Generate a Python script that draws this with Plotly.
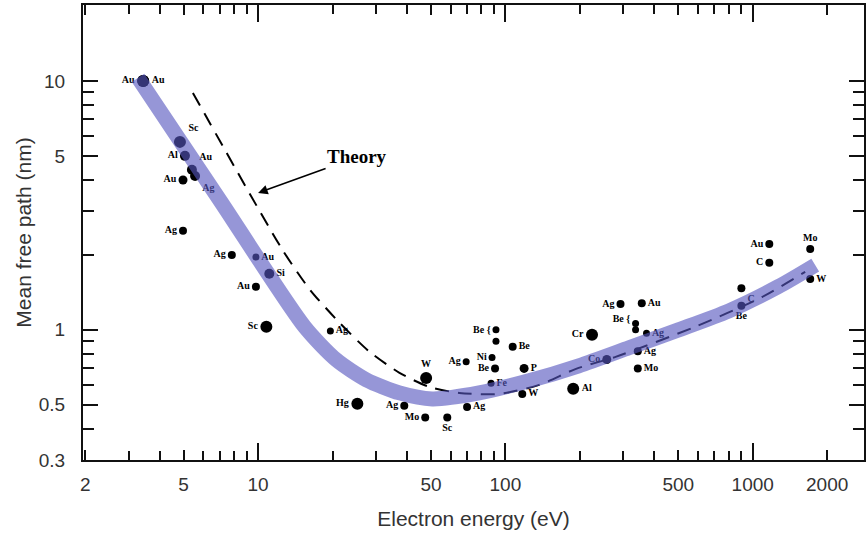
import plotly.graph_objects as go

# ---------------- data ----------------
# measured points (electron energy eV, mean free path nm, element)
energy = [3.43, 3.43, 4.83, 5.06, 5.40, 4.97, 5.56, 4.97, 7.83, 9.8, 11.1, 9.8, 10.8,
          19.6, 25.2, 39.0, 47.4, 47.8, 58.2, 70.0, 69.4, 88.3, 90.8, 91.6, 91.6,
          107, 119, 87.5, 117, 188, 224, 257, 292, 356, 336, 336, 372, 343, 343,
          1167, 1167, 1708, 1708, 900, 900]
mfp = [10.0, 10.0, 5.69, 5.0, 4.40, 4.0, 4.15, 2.50, 2.0, 1.96, 1.68, 1.49, 1.03,
       0.99, 0.505, 0.495, 0.444, 0.64, 0.444, 0.49, 0.744, 0.774, 0.70, 1.0, 0.90,
       0.855, 0.70, 0.61, 0.553, 0.58, 0.955, 0.76, 1.27, 1.28, 1.06, 1.0, 0.97, 0.82, 0.70,
       2.21, 1.86, 2.11, 1.60, 1.47, 1.25]
element = ["Au", "Au", "Sc", "Al", "Au", "Au", "Ag", "Ag", "Ag", "Au", "Si", "Au", "Sc",
           "Ag", "Hg", "Ag", "Mo", "W", "Sc", "Ag", "Ag", "Ni", "Be", "", "Be {",
           "Be", "P", "Fe", "W", "Al", "Cr", "Co", "Ag", "Au", "", "Be {", "Ag", "Ag", "Mo",
           "Au", "C", "Mo", "W", "C", "Be"]

# universal curve (fit band)
curve_energy = [3.27, 7.07, 15.4, 20.7, 27.4, 37.3, 50.6, 78.3, 124.6, 198, 316, 501,
                798, 1268, 1790]
curve_mfp = [10.28, 3.27, 1.03, 0.758, 0.630, 0.558, 0.528, 0.558, 0.624, 0.717, 0.847,
             1.0, 1.19, 1.49, 1.82]

# theory (dashed)
theory_energy = [5.45, 12.57, 16.2, 21.3, 28.2, 37.3, 49.2, 65.0, 94.2, 137, 193, 279,
                 587, 1084, 1630]
theory_mfp = [8.95, 2.09, 1.45, 1.07, 0.817, 0.672, 0.590, 0.558, 0.553, 0.601, 0.697,
              0.779, 1.03, 1.35, 1.71]

x_ticks = [2, 5, 10, 50, 100, 500, 1000, 2000]
x_minor = [3, 4, 6, 7, 8, 9, 20, 30, 40, 60, 70, 80, 90, 200, 300, 400, 600, 700, 800, 900]
x_long = [10, 100, 1000]
y_ticks = [0.3, 0.5, 1, 5, 10]
y_minor = [0.4, 0.6, 0.7, 0.8, 0.9, 2, 3, 4, 6, 7, 8, 9]

# ---------------- styles ----------------
label_pos = ["middle left", "middle right", "top right", "middle left", "top right",
             "middle left", "bottom right", "middle left", "middle left", "middle right",
             "middle right", "middle left", "middle left", "middle right", "middle left",
             "middle left", "middle left", "top center", "bottom center", "middle right",
             "middle left", "middle left", "middle left", "middle left", "top left",
             "middle right", "middle right", "middle right", "middle right", "middle right",
             "middle left", "middle left", "middle left", "middle right", "middle left",
             "top left", "middle right", "middle right", "middle right",
             "middle left", "middle left", "top center", "middle right", "bottom right",
             "bottom center"]
marker_size = [12, 12, 12, 10, 10, 9, 10, 8, 8, 7, 10, 8, 12,
               7, 12, 8, 8, 12, 8, 8, 7, 7, 8, 7, 7,
               8, 9, 7, 8, 12, 12, 9, 8, 8, 7, 7, 7, 8, 8,
               8, 8, 8, 8, 8, 8]

fig = go.Figure()

fig.add_trace(go.Scatter(
    x=theory_energy, y=theory_mfp, mode="lines",
    line=dict(color="black", width=2, dash="14px,9px", shape="spline", smoothing=0.7),
    hoverinfo="skip", showlegend=False))

fig.add_trace(go.Scatter(
    x=energy, y=mfp, mode="markers+text", text=element, textposition=label_pos,
    marker=dict(color="#000000", size=marker_size, opacity=1,
                line=dict(width=0)),
    textfont=dict(family="Liberation Serif", size=10, color="black", weight="bold"),
    showlegend=False))

fig.add_trace(go.Scatter(
    x=curve_energy, y=curve_mfp, mode="lines",
    line=dict(color="rgba(85,85,190,0.62)", width=15, shape="spline", smoothing=0.7),
    hoverinfo="skip", showlegend=False))

fig.add_annotation(
    x=1.0, y=0.550, xref="x", yref="y", text="Theory", showarrow=True,
    ax=99, ay=-36, arrowhead=2, arrowsize=1.2, arrowwidth=1.6, arrowcolor="black",
    font=dict(family="Liberation Serif", size=19, color="black", weight="bold"))

axis_line = dict(showline=True, linecolor="#111", linewidth=2, mirror="ticks",
                 ticks="inside", tickcolor="#111", tickwidth=2, showgrid=False,
                 zeroline=False)

fig.update_layout(
    width=866, height=538,
    margin=dict(l=83, r=0, t=5, b=78),
    paper_bgcolor="white", plot_bgcolor="white",
    xaxis=dict(type="log", range=[0.292, 3.450], tickvals=x_ticks,
               ticktext=[str(v) for v in x_ticks], ticklen=10,
               minor=dict(tickvals=x_minor, ticks="inside", ticklen=9, tickwidth=2,
                          tickcolor="#111", showgrid=False),
               tickfont=dict(family="Liberation Sans", size=19, color="#333"),
               ticklabelstandoff=6,
               title=dict(text="Electron energy (eV)", standoff=18,
                          font=dict(family="Liberation Sans", size=21, color="#333")),
               **axis_line),
    xaxis2=dict(type="log", range=[0.292, 3.450], overlaying="x", side="bottom",
                tickvals=x_long, showticklabels=False, ticklen=17, showline=False,
                mirror="ticks", ticks="inside", tickcolor="#111", tickwidth=2,
                showgrid=False, zeroline=False),
    yaxis=dict(type="log", range=[-0.5229, 1.305], tickvals=y_ticks,
               ticktext=[str(v) for v in y_ticks], ticklen=15,
               minor=dict(tickvals=y_minor, ticks="inside", ticklen=11, tickwidth=2,
                          tickcolor="#111", showgrid=False),
               tickfont=dict(family="Liberation Sans", size=19, color="#333"),
               ticklabelstandoff=12,
               title=dict(text="Mean free path (nm)", standoff=1,
                          font=dict(family="Liberation Sans", size=21, color="#333")),
               **axis_line),
)

# invisible trace that activates the overlay axis carrying the long decade ticks
fig.add_trace(go.Scatter(x=[x_long[0]], y=[y_ticks[0]], xaxis="x2", mode="markers",
                         marker=dict(opacity=0), hoverinfo="skip", showlegend=False))

fig.write_html("out.html")
